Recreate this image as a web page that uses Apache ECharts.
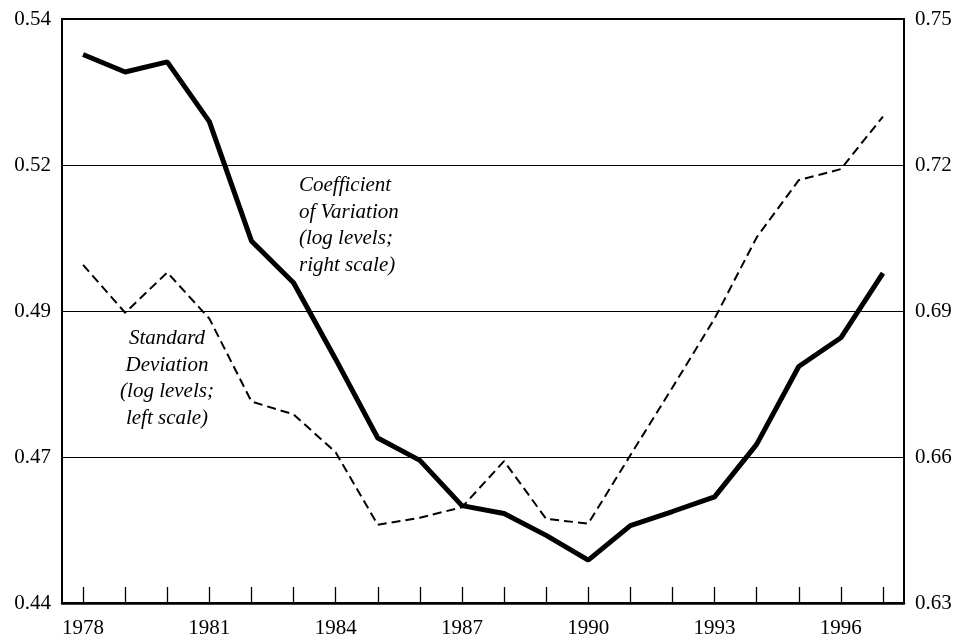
<!DOCTYPE html>
<html>
<head>
<meta charset="utf-8">
<script src="https://cdn.jsdelivr.net/npm/echarts@6/dist/echarts.min.js"></script>
<style>
  html, body { margin: 0; padding: 0; background: #fff; }
  #chart { width: 954px; height: 635px; }
</style>
</head>
<body>
<div id="chart"></div>
<script>
var years = ['1978', '1979', '1980', '1981', '1982', '1983', '1984', '1985', '1986', '1987',
             '1988', '1989', '1990', '1991', '1992', '1993', '1994', '1995', '1996', '1997'];

// standard deviation, log levels (left scale) - dashed
var stdDev = [0.4979, 0.4897, 0.4966, 0.4887, 0.4745, 0.4723, 0.4658, 0.4534, 0.4546, 0.4564,
              0.4643, 0.4544, 0.4536, 0.4653, 0.4769, 0.4887, 0.5026, 0.5124, 0.5143, 0.5233];

// coefficient of variation, log levels (right scale) - solid
var coefVar = [0.7427, 0.7391, 0.7412, 0.7289, 0.7044, 0.6958, 0.6801, 0.6639, 0.6593, 0.6500,
               0.6484, 0.6439, 0.6388, 0.6459, 0.6488, 0.6518, 0.6626, 0.6786, 0.6845, 0.6978];

var leftTicks = ['0.44', '0.47', '0.49', '0.52', '0.54'];
var rightTicks = ['0.63', '0.66', '0.69', '0.72', '0.75'];

var serif = 'Liberation Serif';

var chart = echarts.init(document.getElementById('chart'));

var option = {
    animation: false,
    backgroundColor: '#fff',
    grid: {
        left: 62,
        right: 50,
        top: 19,
        bottom: 32,
        outerBoundsMode: 'none',
        containLabel: false,
        show: true,
        borderColor: '#000',
        borderWidth: 2
    },
    xAxis: {
        type: 'category',
        data: years,
        boundaryGap: true,
        axisLine: { show: true, lineStyle: { color: '#000', width: 2.5 } },
        axisTick: {
            show: true,
            inside: true,
            length: 16,
            alignWithLabel: true,
            interval: 0,
            lineStyle: { color: '#000', width: 1.3 }
        },
        axisLabel: {
            interval: 2,
            color: '#000',
            fontFamily: serif,
            fontSize: 21,
            margin: 15
        },
        splitLine: { show: false }
    },
    yAxis: [
        {
            type: 'value',
            position: 'left',
            min: 0.44,
            max: 0.54,
            alignTicks: true,
            axisLine: { show: false },
            axisTick: { show: false },
            axisLabel: {
                color: '#000',
                fontFamily: serif,
                fontSize: 21,
                margin: 11,
                padding: [6, 0, 0, 0],
                formatter: function (v, i) { return leftTicks[i]; }
            },
            splitLine: { show: true, lineStyle: { color: '#000', width: 1 } }
        },
        {
            type: 'value',
            position: 'right',
            min: 0.63,
            max: 0.75,
            interval: 0.03,
            axisLine: { show: false },
            axisTick: { show: false },
            axisLabel: {
                color: '#000',
                fontFamily: serif,
                fontSize: 21,
                margin: 11,
                padding: [6, 0, 0, 0],
                formatter: function (v, i) { return rightTicks[i]; }
            },
            splitLine: { show: false }
        }
    ],
    graphic: [
        {
            type: 'text',
            x: 299,
            y: 172,
            style: {
                text: 'Coefficient\nof Variation\n(log levels;\nright scale)',
                font: 'italic 21px "Liberation Serif"',
                fill: '#000',
                lineHeight: 26.7,
                textAlign: 'left',
                textVerticalAlign: 'top'
            }
        },
        {
            type: 'text',
            x: 167,
            y: 325,
            style: {
                text: 'Standard\nDeviation\n(log levels;\nleft scale)',
                font: 'italic 21px "Liberation Serif"',
                fill: '#000',
                lineHeight: 26.7,
                textAlign: 'center',
                textVerticalAlign: 'top'
            }
        }
    ],
    series: [
        {
            name: 'Standard Deviation',
            type: 'line',
            yAxisIndex: 0,
            data: stdDev,
            symbol: 'none',
            lineStyle: { color: '#000', width: 2, type: [9, 5] },
            z: 3
        },
        {
            name: 'Coefficient of Variation',
            type: 'line',
            yAxisIndex: 1,
            data: coefVar,
            symbol: 'none',
            lineStyle: { color: '#000', width: 5 },
            z: 4
        }
    ]
};

chart.setOption(option);
</script>
</body>
</html>
